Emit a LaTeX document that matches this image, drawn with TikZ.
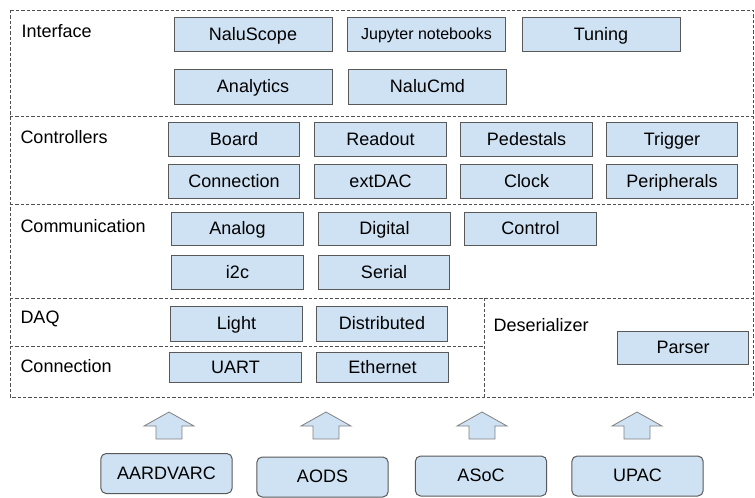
\documentclass[tikz,border=0pt]{standalone}
\usepackage{fontspec}
\setmainfont{Liberation Sans}

\definecolor{boxfill}{HTML}{CFE2F3}
\definecolor{boxline}{HTML}{595959}
\definecolor{frameline}{HTML}{505050}

\tikzset{every picture/.style={line width=0.75pt}}
\tikzset{
  blk/.style={draw=boxline, fill=boxfill, minimum width=98.5pt, minimum height=25pt, inner sep=0pt, text height=9.7pt, text depth=1pt, font=\fontsize{13.5}{16}\selectfont},
  wideblk/.style={blk, minimum width=118.5pt, minimum height=26pt},
  chip/.style={blk, rounded corners=4pt, minimum height=30pt},
  frame/.style={draw=frameline, dash pattern=on 2.5pt off 1.5pt},
  lbl/.style={anchor=west, inner sep=0pt, font=\fontsize{13.5}{16}\selectfont},
  uparrow/.style={draw=gray, fill=boxfill, line width=0.6pt}
}

\begin{document}
\begin{tikzpicture}[x=0.75pt,y=0.75pt,yscale=-1]

\useasboundingbox (0,0) rectangle (755,497);

% layers
\draw [frame] (10,10) rectangle (753,397);
\draw [frame] (10,116) -- (753,116);
\draw [frame] (10,204) -- (753,204);
\draw [frame] (10,298) -- (753,298);
\draw [frame] (10,346) -- (484,346);
\draw [frame] (484,298) -- (484,397);

\node [lbl] (interface) at (21,31) {Interface};
\node [lbl] (controllers) at (20,137) {Controllers};
\node [lbl] (communication) at (20,226) {Communication};
\node [lbl] (daq) at (20,319) {DAQ};
\node [lbl] (connection) at (20,366) {Connection};
\node [lbl] (deserializer) at (493,325) {Deserializer};

% interface
\node [wideblk] (naluscope) at (253,34.5) {NaluScope};
\node [wideblk, font=\fontsize{12}{14}\selectfont, text height=8.6pt] (jupyter) at (426.5,34.5) {Jupyter notebooks};
\node [wideblk] (tuning) at (601,34.5) {Tuning};
\node [wideblk] (analytics) at (253,87) {Analytics};
\node [wideblk] (nalucmd) at (427.5,87) {NaluCmd};

% controllers
\node [blk] (board) at (234,139.5) {Board};
\node [blk] (readout) at (380.5,139.5) {Readout};
\node [blk] (pedestals) at (526.5,139.5) {Pedestals};
\node [blk] (trigger) at (672,139.5) {Trigger};
\node [blk] (connctrl) at (234,181.5) {Connection};
\node [blk] (extdac) at (380.5,181.5) {extDAC};
\node [blk] (clock) at (526.5,181.5) {Clock};
\node [blk] (peripherals) at (672,181.5) {Peripherals};

% communication
\node [blk] (analog) at (237.5,229) {Analog};
\node [blk] (digital) at (384.5,229) {Digital};
\node [blk] (control) at (530.5,229) {Control};
\node [blk] (iic) at (237.5,272.5) {i2c};
\node [blk] (serial) at (384,272.5) {Serial};

% daq, connection, deserializer
\node [blk, minimum height=26.5pt] (light) at (236.5,324) {Light};
\node [blk, minimum height=26.5pt] (distributed) at (382,324) {Distributed};
\node [blk, minimum height=22pt] (uart) at (235.5,367.5) {UART};
\node [blk, minimum height=22pt] (ethernet) at (382.5,367.5) {Ethernet};
\node [blk] (parser) at (683,348) {Parser};

% chips
\node [chip] (aardvarc) at (166.5,473.5) {AARDVARC};
\node [chip] (aods) at (322.5,477) {AODS};
\node [chip] (asoc) at (481,476) {ASoC};
\node [chip] (upac) at (637.5,476) {UPAC};

\draw [uparrow] (169,412) -- (194,426) -- (182,426) -- (182,439) -- (156,439) -- (156,426) -- (144,426) -- cycle ;
\draw [uparrow] (326,412) -- (351,426) -- (339,426) -- (339,439) -- (313,439) -- (313,426) -- (301,426) -- cycle ;
\draw [uparrow] (482,412) -- (507,426) -- (495,426) -- (495,439) -- (469,439) -- (469,426) -- (457,426) -- cycle ;
\draw [uparrow] (637,412) -- (662,426) -- (650,426) -- (650,439) -- (624,439) -- (624,426) -- (612,426) -- cycle ;

\end{tikzpicture}
\end{document}
